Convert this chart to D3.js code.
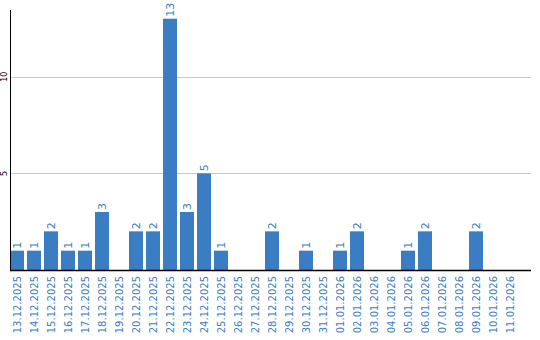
<!DOCTYPE html>
<html>
<head>
<meta charset="utf-8">
<title>Daily counts</title>
<style>
  body { margin: 0; background: #fff; }
  svg text { font-family: "DejaVu Sans", sans-serif; }
</style>
</head>
<body>
<div id="chart"></div>
<script src="https://cdn.jsdelivr.net/npm/d3@7"></script>
<script>
  var dates = ['13.12.2025','14.12.2025','15.12.2025','16.12.2025','17.12.2025','18.12.2025',
    '19.12.2025','20.12.2025','21.12.2025','22.12.2025','23.12.2025','24.12.2025','25.12.2025',
    '26.12.2025','27.12.2025','28.12.2025','29.12.2025','30.12.2025','31.12.2025','01.01.2026',
    '02.01.2026','03.01.2026','04.01.2026','05.01.2026','06.01.2026','07.01.2026','08.01.2026',
    '09.01.2026','10.01.2026','11.01.2026'];
  var counts = [1,1,2,1,1,3,0,2,2,13,3,5,1,0,0,2,0,1,0,1,2,0,0,1,2,0,0,2,0,0];
  var yTicks = [5, 10];

  var width = 540, height = 340;
  var plotLeft = 10, plotRight = 531, plotBase = 270, plotTop = 10;
  var blue = '#3a7dc3';

  var svg = d3.select('#chart').append('svg')
    .attr('width', width)
    .attr('height', height);

  var x = d3.scaleBand()
    .domain(dates)
    .range([plotLeft, plotLeft + dates.length * 17 - 3])
    .paddingInner(3 / 17)
    .paddingOuter(0);

  var y = d3.scaleLinear()
    .domain([0, 13.45])
    .range([plotBase, plotTop]);

  // grid lines
  svg.selectAll('.grid')
    .data(yTicks)
    .enter().append('line')
    .attr('x1', plotLeft).attr('x2', plotRight)
    .attr('y1', function(d) { return Math.round(y(d)) + 0.5; })
    .attr('y2', function(d) { return Math.round(y(d)) + 0.5; })
    .attr('stroke', '#c8c8c8');

  // y tick labels (rotated)
  svg.selectAll('.ytick')
    .data(yTicks)
    .enter().append('text')
    .attr('transform', function(d) { return 'translate(7,' + y(d) + ') rotate(-90)'; })
    .attr('text-anchor', 'middle')
    .attr('font-size', '8px')
    .attr('fill', '#000')
    .text(function(d) { return d; });

  // bars
  svg.selectAll('.bar')
    .data(counts)
    .enter().append('rect')
    .attr('x', function(d, i) { return x(dates[i]); })
    .attr('width', x.bandwidth())
    .attr('y', function(d) { return y(d); })
    .attr('height', function(d) { return plotBase - y(d); })
    .attr('fill', blue);

  // value labels, only for non-zero bars
  counts.forEach(function(d, i) {
    if (d <= 0) return;
    svg.append('text')
      .attr('transform', 'translate(' + (x(dates[i]) + x.bandwidth() / 2) + ',' + (y(d) - 2) + ') rotate(-90)')
      .attr('dy', '0.35em')
      .attr('text-anchor', 'start')
      .attr('font-size', '11px')
      .attr('fill', blue)
      .text(d);
  });

  // x labels
  svg.selectAll('.xlab')
    .data(dates)
    .enter().append('text')
    .attr('transform', function(d) {
      return 'translate(' + (x(d) + x.bandwidth() / 2) + ',' + (plotBase + 6) + ') rotate(-90)';
    })
    .attr('dy', '0.35em')
    .attr('text-anchor', 'end')
    .attr('font-size', '10px')
    .attr('fill', blue)
    .text(function(d) { return d; });

  // axes lines
  svg.append('line')
    .attr('x1', plotLeft + 0.5).attr('x2', plotLeft + 0.5)
    .attr('y1', plotTop).attr('y2', plotBase + 1)
    .attr('stroke', '#000');
  svg.append('line')
    .attr('x1', plotLeft).attr('x2', plotRight)
    .attr('y1', plotBase + 0.5).attr('y2', plotBase + 0.5)
    .attr('stroke', '#000')
    .attr('stroke-width', 1.5);
</script>
</body>
</html>
